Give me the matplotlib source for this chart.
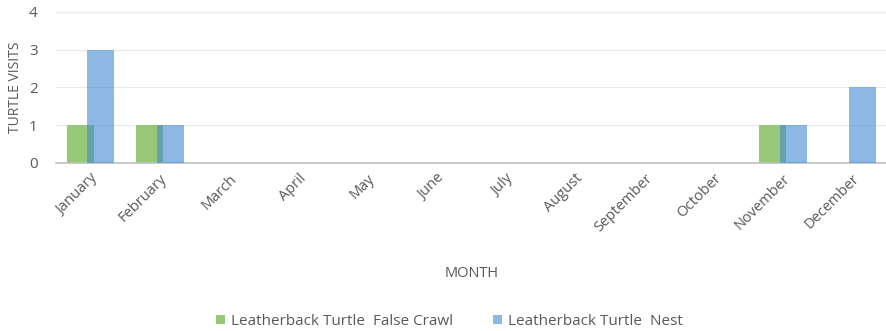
import matplotlib.pyplot as plt
import numpy as np

months = ['January', 'February', 'March', 'April', 'May', 'June', 'July',
          'August', 'September', 'October', 'November', 'December']
false_crawl = [1, 1, 0, 0, 0, 0, 0, 0, 0, 0, 1, 0]
nest = [3, 1, 0, 0, 0, 0, 0, 0, 0, 0, 1, 2]

plt.rcParams['font.family'] = ['Open Sans', 'DejaVu Sans']
grey = '#595959'

fig = plt.figure(figsize=(8.87, 3.31), dpi=100)
ax = fig.add_axes([0.063, 0.508, 0.937, 0.456])

x = np.arange(len(months))
w = 0.39
ax.bar(x - 0.148, false_crawl, w, color='#96c878', label='Leatherback Turtle  False Crawl', zorder=2)
ax.bar(x + 0.148, nest, w, color='#418ad2', alpha=0.6, linewidth=0,
       label='Leatherback Turtle  Nest', zorder=3)

ax.set_xlim(-0.5, 11.5)
ax.set_ylim(0, 4)
ax.set_yticks(range(5))
ax.grid(axis='y', color='#e8e8e8', linewidth=0.8, zorder=0)
for s in ['top', 'right', 'left']:
    ax.spines[s].set_visible(False)
ax.spines['bottom'].set_color('#bfbfbf')
ax.spines['bottom'].set_linewidth(1.2)
ax.tick_params(length=0, colors=grey, labelsize=11)
ax.tick_params(axis='y', pad=13)
ax.tick_params(axis='x', pad=6)
ax.set_xticks(x)
ax.set_xticklabels(months, rotation=45, ha='right', rotation_mode='anchor', fontsize=10.5)

ax.set_ylabel('TURTLE VISITS', color=grey, fontsize=10)
ax.yaxis.set_label_coords(-0.04, 0.5)
ax.set_xlabel('MONTH', color=grey, fontsize=10.5, labelpad=22)

leg = fig.legend(loc='lower center', bbox_to_anchor=(0.507, -0.035), ncol=2, frameon=False,
                 fontsize=11, handlelength=0.6, handleheight=0.6, columnspacing=2.6,
                 handletextpad=0.4)
for t in leg.get_texts():
    t.set_color(grey)

fig.savefig('out.png', dpi=100)
